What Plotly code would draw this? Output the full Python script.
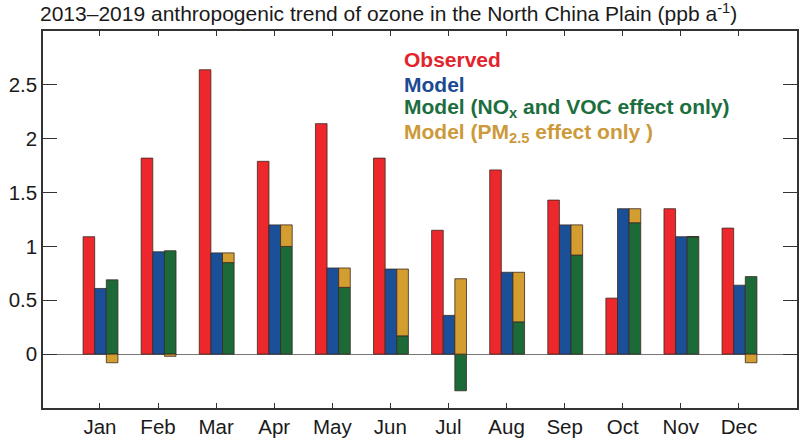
import plotly.graph_objects as go

months = ["Jan", "Feb", "Mar", "Apr", "May", "Jun", "Jul", "Aug", "Sep", "Oct", "Nov", "Dec"]
observed = [1.09, 1.82, 2.64, 1.79, 2.14, 1.82, 1.15, 1.71, 1.43, 0.52, 1.35, 1.17]
model = [0.61, 0.95, 0.94, 1.20, 0.80, 0.79, 0.36, 0.76, 1.20, 1.35, 1.09, 0.64]
nox_voc = [0.69, 0.96, 0.85, 1.00, 0.62, 0.17, -0.34, 0.30, 0.92, 1.22, 1.09, 0.72]
pm25 = [-0.08, -0.02, 0.09, 0.20, 0.18, 0.62, 0.70, 0.46, 0.28, 0.13, 0.0, -0.08]
y_ticks = [0, 0.5, 1, 1.5, 2, 2.5]
y_ticklabels = ["0", "0.5", "1", "1.5", "2", "2.5"]

FONT = "Liberation Sans, Arial, sans-serif"
c_red = "#ec282c"
c_blue = "#1b4f98"
c_green = "#1b6a38"
c_orange = "#d49d2f"
outline = dict(color="#3a2a22", width=0.8)

pos = list(range(1, 13))
fig = go.Figure()
fig.add_trace(go.Bar(x=[p - 0.19 for p in pos], y=observed, width=0.2,
                     marker=dict(color=c_red, line=outline), name="Observed"))
fig.add_trace(go.Bar(x=[p + 0.01 for p in pos], y=model, width=0.2,
                     marker=dict(color=c_blue, line=outline), name="Model"))
fig.add_trace(go.Bar(x=[p + 0.21 for p in pos], y=nox_voc, width=0.2,
                     marker=dict(color=c_green, line=outline), name="NOx VOC"))
fig.add_trace(go.Bar(x=[p + 0.21 for p in pos], y=pm25, width=0.2,
                     marker=dict(color=c_orange, line=outline), name="PM2.5"))

fig.update_layout(
    width=799, height=440,
    margin=dict(l=43, r=2, t=31, b=32, autoexpand=False),
    barmode="relative",
    showlegend=False,
    plot_bgcolor="white", paper_bgcolor="white",
    font=dict(family=FONT, color="#1a1a1a"),
    title=dict(text="2013–2019 anthropogenic trend of ozone in the North China Plain (ppb a<sup>-1</sup>)",
               x=40 / 799, xref="container", xanchor="left",
               y=1 - 14 / 440, yref="container", yanchor="middle",
               font=dict(size=21, family=FONT, color="#1a1a1a")),
)
fig.update_xaxes(range=[0.02, 13.0], tickvals=pos, ticktext=months,
                 ticks="inside", ticklen=5, tickcolor="#333", tickwidth=1.2,
                 showline=True, linecolor="#333", linewidth=1.5, mirror="ticks",
                 showgrid=False, zeroline=False, automargin=False,
                 tickfont=dict(size=20.5, family=FONT, color="#1a1a1a"))
fig.update_yaxes(range=[-0.5, 3.0], tickvals=y_ticks, ticktext=y_ticklabels,
                 ticks="inside", ticklen=14, tickcolor="#333", tickwidth=1.2,
                 showline=True, linecolor="#333", linewidth=1.5, mirror="ticks",
                 showgrid=False, zeroline=True, zerolinecolor="#777", zerolinewidth=1,
                 ticklabelstandoff=0, automargin=False,
                 tickfont=dict(size=20.5, family=FONT, color="#1a1a1a"))

legend_items = [
    ("Observed", "#e2242c", 59),
    ("Model", "#1c4a92", 84),
    ("Model (NO<sub>x</sub> and VOC effect only)", "#1c6e3e", 108),
    ("Model (PM<sub>2.5</sub> effect only )", "#cc9a3a", 133),
]
for text, col, ypx in legend_items:
    fig.add_annotation(text="<b>" + text + "</b>", xref="paper", yref="paper",
                       x=(402 - 43) / 755, y=(408 - ypx) / 377,
                       xanchor="left", yanchor="middle", showarrow=False,
                       font=dict(size=21, family=FONT, color=col))

fig.write_html("out.html", config={"displayModeBar": False},
               post_script="document.body.style.margin='0';document.body.style.overflow='hidden';")
